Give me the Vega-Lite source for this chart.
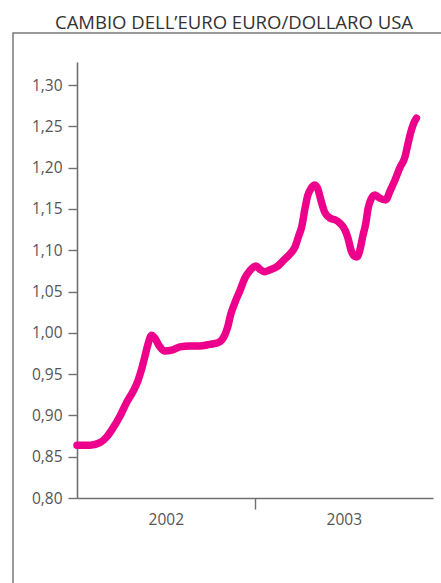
{
  "$schema": "https://vega.github.io/schema/vega-lite/v6.json",
  "width": 428,
  "height": 550,
  "autosize": {"type": "none"},
  "padding": {"left": 13, "top": 33, "right": 0, "bottom": 0},
  "background": "white",
  "title": {
    "text": "CAMBIO DELL’EURO EURO/DOLLARO USA",
    "font": "Open Sans",
    "fontSize": 18.5,
    "fontWeight": "normal",
    "color": "#333333",
    "anchor": "middle",
    "frame": "group",
    "baseline": "alphabetic",
    "offset": 4,
    "dx": 7,
    "dy": 18.5
  },
  "config": {
    "view": {
      "stroke": "#7a7a7a",
      "strokeWidth": 1.5,
      "strokeDash": [428, 978, 550]
    },
    "axis": {
      "labelFont": "Open Sans",
      "labelFontSize": 15.5,
      "labelColor": "#555555",
      "domainColor": "#707070",
      "domainWidth": 1.6,
      "tickColor": "#707070",
      "tickWidth": 1.4,
      "grid": false,
      "title": null
    }
  },
  "data": {
    "values": [
      {"data": "2002-01-01", "cambio": 0.864},
      {"data": "2002-01-28", "cambio": 0.864},
      {"data": "2002-02-17", "cambio": 0.867},
      {"data": "2002-03-03", "cambio": 0.874},
      {"data": "2002-03-15", "cambio": 0.884},
      {"data": "2002-03-30", "cambio": 0.899},
      {"data": "2002-04-13", "cambio": 0.916},
      {"data": "2002-04-25", "cambio": 0.928},
      {"data": "2002-05-06", "cambio": 0.942},
      {"data": "2002-05-14", "cambio": 0.957},
      {"data": "2002-05-20", "cambio": 0.971},
      {"data": "2002-05-26", "cambio": 0.985},
      {"data": "2002-06-03", "cambio": 0.997},
      {"data": "2002-06-09", "cambio": 0.994},
      {"data": "2002-06-20", "cambio": 0.983},
      {"data": "2002-06-30", "cambio": 0.978},
      {"data": "2002-07-14", "cambio": 0.979},
      {"data": "2002-07-31", "cambio": 0.983},
      {"data": "2002-08-20", "cambio": 0.984},
      {"data": "2002-09-10", "cambio": 0.984},
      {"data": "2002-09-30", "cambio": 0.986},
      {"data": "2002-10-17", "cambio": 0.988},
      {"data": "2002-10-29", "cambio": 0.995},
      {"data": "2002-11-06", "cambio": 1.007},
      {"data": "2002-11-12", "cambio": 1.022},
      {"data": "2002-11-21", "cambio": 1.037},
      {"data": "2002-12-01", "cambio": 1.051},
      {"data": "2002-12-11", "cambio": 1.066},
      {"data": "2002-12-21", "cambio": 1.075},
      {"data": "2003-01-03", "cambio": 1.081},
      {"data": "2003-01-11", "cambio": 1.077},
      {"data": "2003-01-21", "cambio": 1.074},
      {"data": "2003-01-31", "cambio": 1.076},
      {"data": "2003-02-17", "cambio": 1.081},
      {"data": "2003-03-01", "cambio": 1.088},
      {"data": "2003-03-13", "cambio": 1.095},
      {"data": "2003-03-24", "cambio": 1.104},
      {"data": "2003-04-01", "cambio": 1.118},
      {"data": "2003-04-07", "cambio": 1.129},
      {"data": "2003-04-13", "cambio": 1.149},
      {"data": "2003-04-19", "cambio": 1.166},
      {"data": "2003-04-26", "cambio": 1.175},
      {"data": "2003-05-04", "cambio": 1.179},
      {"data": "2003-05-10", "cambio": 1.174},
      {"data": "2003-05-16", "cambio": 1.161},
      {"data": "2003-05-24", "cambio": 1.146},
      {"data": "2003-06-04", "cambio": 1.139},
      {"data": "2003-06-14", "cambio": 1.137},
      {"data": "2003-06-24", "cambio": 1.133},
      {"data": "2003-07-05", "cambio": 1.124},
      {"data": "2003-07-11", "cambio": 1.114},
      {"data": "2003-07-17", "cambio": 1.100},
      {"data": "2003-07-23", "cambio": 1.093},
      {"data": "2003-07-29", "cambio": 1.092},
      {"data": "2003-08-04", "cambio": 1.100},
      {"data": "2003-08-10", "cambio": 1.117},
      {"data": "2003-08-16", "cambio": 1.132},
      {"data": "2003-08-21", "cambio": 1.151},
      {"data": "2003-08-27", "cambio": 1.162},
      {"data": "2003-09-04", "cambio": 1.167},
      {"data": "2003-09-14", "cambio": 1.163},
      {"data": "2003-09-26", "cambio": 1.161},
      {"data": "2003-10-05", "cambio": 1.172},
      {"data": "2003-10-15", "cambio": 1.185},
      {"data": "2003-10-25", "cambio": 1.200},
      {"data": "2003-11-04", "cambio": 1.212},
      {"data": "2003-11-10", "cambio": 1.227},
      {"data": "2003-11-16", "cambio": 1.242},
      {"data": "2003-11-22", "cambio": 1.253},
      {"data": "2003-11-28", "cambio": 1.260}
    ]
  },
  "mark": {
    "type": "line",
    "color": "#EC008C",
    "strokeWidth": 7.5,
    "strokeCap": "round",
    "strokeJoin": "round",
    "interpolate": "monotone"
  },
  "encoding": {
    "x": {
      "field": "data",
      "type": "temporal",
      "scale": {
        "type": "utc",
        "domain": [
          {"year": 2002, "month": 1, "date": 1, "utc": true},
          {"year": 2004, "month": 1, "date": 1, "utc": true}
        ],
        "range": [64, 420],
        "nice": false
      },
      "axis": {
        "orient": "bottom",
        "offset": -85,
        "values": [
          {"year": 2002, "month": 7, "date": 2, "utc": true},
          {"year": 2003, "month": 1, "date": 1, "utc": true},
          {"year": 2003, "month": 7, "date": 2, "utc": true}
        ],
        "tickSize": 11,
        "tickOpacity": {
          "condition": {"test": "utcmonth(datum.value) === 0", "value": 1},
          "value": 0
        },
        "labelExpr": "utcmonth(datum.value) === 0 ? '' : utcFormat(datum.value, '%Y')",
        "labelPadding": 3,
        "labelFlush": false,
        "labelOverlap": false
      }
    },
    "y": {
      "field": "cambio",
      "type": "quantitative",
      "scale": {
        "domain": [0.8, 1.328],
        "range": [465, 29],
        "zero": false,
        "nice": false
      },
      "axis": {
        "orient": "left",
        "offset": -64,
        "values": [0.8, 0.85, 0.9, 0.95, 1.0, 1.05, 1.1, 1.15, 1.2, 1.25, 1.3],
        "tickSize": 9,
        "labelPadding": 6,
        "labelExpr": "replace(format(datum.value, '.2f'), '.', ',')",
        "labelFlush": false,
        "labelOverlap": false
      }
    }
  }
}
